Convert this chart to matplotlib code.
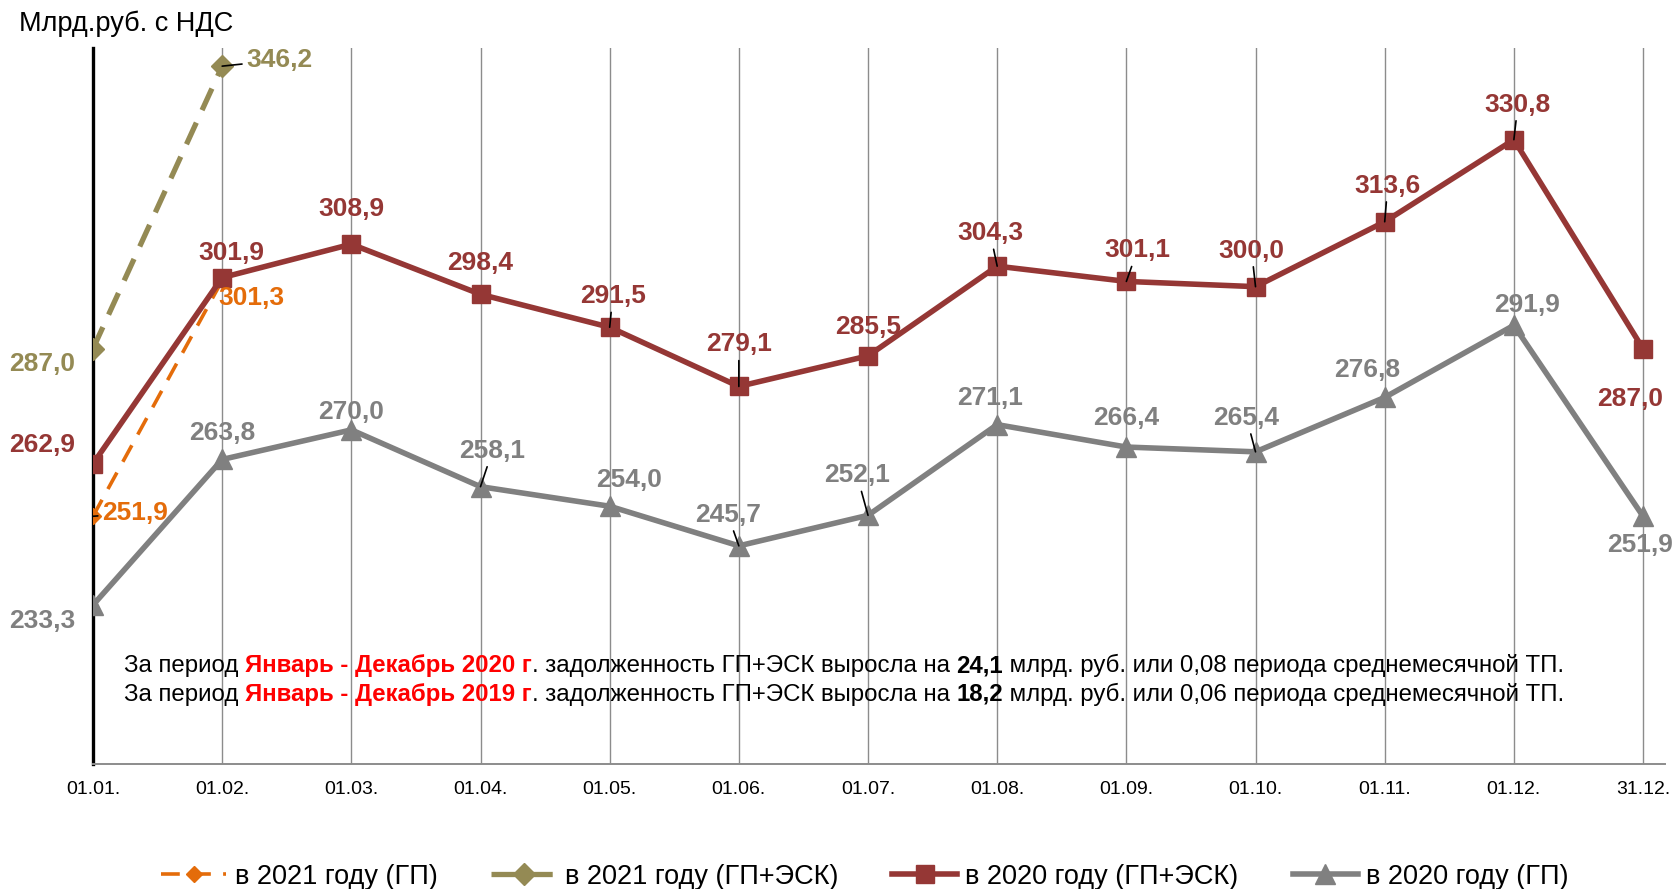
import matplotlib
matplotlib.use("Agg")
import matplotlib.pyplot as plt
from matplotlib.lines import Line2D

plt.rcParams['font.family'] = ['Liberation Sans', 'DejaVu Sans']

# ---- data ----
categories = ["01.01.", "01.02.", "01.03.", "01.04.", "01.05.", "01.06.", "01.07.",
              "01.08.", "01.09.", "01.10.", "01.11.", "01.12.", "31.12."]
gp_2021 = [251.9, 301.3]
gpesk_2021 = [287.0, 346.2]
gpesk_2020 = [262.9, 301.9, 308.9, 298.4, 291.5, 279.1, 285.5, 304.3, 301.1, 300.0, 313.6, 330.8, 287.0]
gp_2020 = [233.3, 263.8, 270.0, 258.1, 254.0, 245.7, 252.1, 271.1, 266.4, 265.4, 276.8, 291.9, 251.9]
legend_labels = ["в 2021 году (ГП)", "в 2021 году (ГП+ЭСК)", "в 2020 году (ГП+ЭСК)", "в 2020 году (ГП)"]
ylabel_text = "Млрд.руб. с НДС"

C_OR = "#E46C0A"
C_OL = "#948A54"
C_RD = "#953735"
C_GR = "#808080"

fig = plt.figure(figsize=(16.76, 8.89), dpi=100)
ax = fig.add_axes([93/1676, 1-764/889, (1665-93)/1676, (764-48)/889])
x_all = list(range(len(categories)))
ax.set_xlim(0, 12.17)
ax.set_ylim(200, 350)

for xi in x_all[1:]:
    ax.axvline(xi, color="#8C8C8C", lw=1.0, zorder=0)

for s in ["top", "right"]:
    ax.spines[s].set_visible(False)
ax.spines["left"].set_color("black")
ax.spines["left"].set_linewidth(2.4)
ax.spines["bottom"].set_color("#8C8C8C")
ax.spines["bottom"].set_linewidth(1.4)
ax.set_yticks([])
ax.set_xticks(x_all)
ax.set_xticklabels(categories, fontsize=14)
ax.tick_params(axis="x", length=0, pad=12)

l1, = ax.plot(x_all[:2], gp_2021, color=C_OR, lw=2.6, dashes=(5.2, 3.4),
              marker="D", ms=8, zorder=3)
l2, = ax.plot(x_all[:2], gpesk_2021, color=C_OL, lw=3.8, dashes=(4.5, 2.6),
              marker="D", ms=11, zorder=3)
l3, = ax.plot(x_all, gpesk_2020, color=C_RD, lw=4.0, marker="s", ms=13, zorder=4)
l4, = ax.plot(x_all, gp_2020, color=C_GR, lw=4.0, marker="^", ms=15, zorder=4)

FS = 19

def lab(xi, yv, dx, dy, color, ha="center", leader=False):
    kw = {}
    if leader:
        kw["arrowprops"] = dict(arrowstyle="-", color="black", lw=1.2, shrinkA=1, shrinkB=0)
    ax.annotate(f"{yv:.1f}".replace(".", ","), xy=(xi, yv), xytext=(dx, dy),
                textcoords="offset pixels", ha=ha, va="center", fontsize=FS,
                fontweight="bold", color=color, zorder=6, **kw)

red_off = [(-18, 19, "right", False), (9, 25, "center", False), (0, 35, "center", False),
           (0, 31, "center", False), (3, 31, "center", True), (0, 42, "center", True),
           (0, 29, "center", False), (-7, 33, "center", True), (11, 31, "center", True),
           (-4, 36, "center", True), (3, 36, "center", True), (4, 35, "center", True),
           (-13, -50, "center", False)]
gray_off = [(-18, -16, "right", False), (0, 26, "center", False), (0, 18, "center", False),
            (12, 36, "center", True), (19, 26, "center", False), (-11, 31, "center", True),
            (-11, 40, "center", True), (-7, 27, "center", False), (0, 29, "center", False),
            (-9, 34, "center", True), (-18, 27, "center", False), (13, 20, "center", False),
            (-3, -29, "center", False)]
for i, (dx, dy, ha, ld) in enumerate(red_off):
    lab(x_all[i], gpesk_2020[i], dx, dy, C_RD, ha, ld)
for i, (dx, dy, ha, ld) in enumerate(gray_off):
    lab(x_all[i], gp_2020[i], dx, dy, C_GR, ha, ld)
lab(0, gp_2021[0], 9, 3, C_OR, "left", True)
lab(1, gp_2021[1], 29, -18, C_OR, "center", False)
lab(0, gpesk_2021[0], -18, -15, C_OL, "right", False)
lab(1, gpesk_2021[1], 24, 6, C_OL, "left", True)

fig.text(19/1676, 1-24/889, ylabel_text, fontsize=19.5, va="center", ha="left")

# ---- annotation text lines ----
TFS = 17.3
def rainbow(x, y, parts):
    t = fig.text(x, y, parts[0][0], fontsize=TFS, va="baseline", ha="left",
                 color=parts[0][1], fontweight=parts[0][2])
    for s, c, w in parts[1:]:
        t = ax.annotate(s, xycoords=t, xy=(1, 0), va="bottom", ha="left",
                        fontsize=TFS, color=c, fontweight=w)

rainbow(124/1676, 1-672/889, [
    ("За период ", "black", "normal"),
    ("Январь - Декабрь 2020 г", "red", "bold"),
    (". задолженность ГП+ЭСК выросла на ", "black", "normal"),
    ("24,1", "black", "bold"),
    (" млрд. руб. или 0,08 периода среднемесячной ТП.", "black", "normal"),
])
rainbow(124/1676, 1-701/889, [
    ("За период ", "black", "normal"),
    ("Январь - Декабрь 2019 г", "red", "bold"),
    (". задолженность ГП+ЭСК выросла на ", "black", "normal"),
    ("18,2", "black", "bold"),
    (" млрд. руб. или 0,06 периода среднемесячной ТП.", "black", "normal"),
])

fig.legend([l1, l2, l3, l4], legend_labels, loc="center", bbox_to_anchor=(0.516, 0.014),
           ncol=4, frameon=False, fontsize=19.5, handlelength=2.4, handletextpad=0.3,
           columnspacing=2.0)

fig.savefig("out.png", dpi=100)
